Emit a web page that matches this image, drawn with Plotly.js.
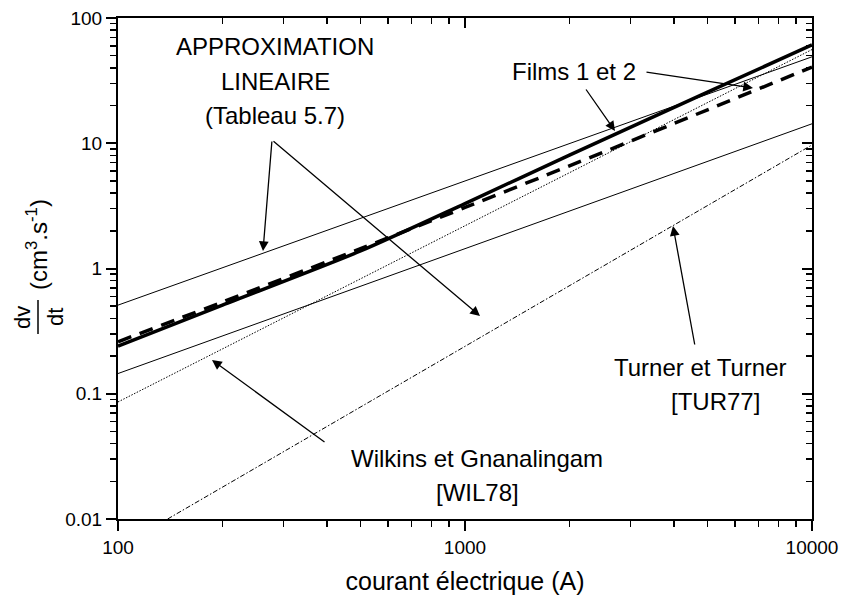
<!DOCTYPE html>
<html>
<head>
<meta charset="utf-8">
<script src="https://cdn.plot.ly/plotly-3.0.1.min.js"></script>
<style>html,body{margin:0;padding:0;background:#fff;}#plot{width:842px;height:603px;}</style>
</head>
<body>
<div id="plot"></div>
<script>
// ---- data ----
const currentFilms = [100, 200, 500, 1000, 2000, 5000, 10000];
const films1 = [0.24, 0.51, 1.38, 3.3, 8.05, 25.6, 61];      // thick solid
const films2 = [0.26, 0.54, 1.44, 3.07, 6.6, 18.5, 40.6];    // thick dashed
const currentLin = [100, 10000];
const linUpper = [0.51, 49];
const linLower = [0.145, 14.3];
const currentWil = [100, 1000, 10000];
const wilkins = [0.086, 2.2, 56];
const currentTur = [139, 1000, 10000];
const turner = [0.01, 0.24, 9.7];

const xTickVals = [100, 1000, 10000];
const xTickText = ['100', '1000', '10000'];
const yTickVals = [0.01, 0.1, 1, 10, 100];
const yTickText = ['0.01', '0.1', '1', '10', '100'];

// ---- layout helpers ----
const W = 842, H = 603;
const M = {l: 118, r: 30, t: 18, b: 84};
const PW = W - M.l - M.r, PH = H - M.t - M.b;
const px = x => (x - M.l) / PW;
const py = y => (H - M.b - y) / PH;

function minorVals(lo, hi) {
  const out = [];
  for (let d = lo; d < hi; d *= 10) for (let k = 2; k <= 9; k++) out.push(d * k);
  return out;
}
const FONT = 'Arial, "Liberation Sans", sans-serif';
const black = '#000';

const traces = [
  {x: currentLin, y: linUpper, mode: 'lines', line: {color: black, width: 1}},
  {x: currentLin, y: linLower, mode: 'lines', line: {color: black, width: 1}},
  {x: currentWil, y: wilkins, mode: 'lines', line: {color: black, width: 1, dash: '1.5px,1.5px'}},
  {x: currentTur, y: turner, mode: 'lines', line: {color: black, width: 1, dash: '5px,2px,1.5px,2px'}},
  {x: currentFilms, y: films2, mode: 'lines', line: {color: black, width: 3.5, dash: '14px,9px', shape: 'spline', smoothing: 0.7}},
  {x: currentFilms, y: films1, mode: 'lines', line: {color: black, width: 3.5, shape: 'spline', smoothing: 0.7}},
  {x: [null], y: [null], xaxis: 'x2', yaxis: 'y2', mode: 'lines', showlegend: false, hoverinfo: 'skip'}
];

const axCommon = {
  type: 'log', showgrid: false, zeroline: false, showline: true,
  linecolor: black, linewidth: 2, tickcolor: black, tickwidth: 2,
  tickfont: {family: FONT, size: 19, color: black}
};

const layout = {
  width: W, height: H, margin: M, showlegend: false,
  paper_bgcolor: '#fff', plot_bgcolor: '#fff',
  font: {family: FONT, color: black},
  xaxis: Object.assign({}, axCommon, {
    range: [2, 4], tickmode: 'array', tickvals: xTickVals, ticktext: xTickText,
    ticks: 'outside', ticklen: 10,
    minor: {tickmode: 'array', tickvals: minorVals(100, 10000), ticks: 'outside', ticklen: 6, tickwidth: 1.5, tickcolor: black},
    title: {text: 'courant électrique (A)', font: {family: FONT, size: 25, color: black}, standoff: 16}
  }),
  yaxis: Object.assign({}, axCommon, {
    range: [-2, 2], tickmode: 'array', tickvals: yTickVals, ticktext: yTickText,
    ticks: 'outside', ticklen: 10,
    minor: {tickmode: 'array', tickvals: minorVals(0.01, 100), ticks: 'outside', ticklen: 6, tickwidth: 1.5, tickcolor: black}
  }),
  xaxis2: Object.assign({}, axCommon, {
    overlaying: 'x', side: 'top', range: [2, 4], tickmode: 'array', tickvals: xTickVals,
    showticklabels: false, ticks: 'inside', ticklen: 10,
    minor: {tickmode: 'array', tickvals: minorVals(100, 10000), ticks: 'inside', ticklen: 6, tickwidth: 1.5, tickcolor: black}
  }),
  yaxis2: Object.assign({}, axCommon, {
    overlaying: 'y', side: 'right', range: [-2, 2], tickmode: 'array', tickvals: yTickVals,
    showticklabels: false, ticks: 'inside', ticklen: 10,
    minor: {tickmode: 'array', tickvals: minorVals(0.01, 100), ticks: 'inside', ticklen: 6, tickwidth: 1.5, tickcolor: black}
  }),
  shapes: [
    {type: 'line', xref: 'paper', yref: 'paper', x0: px(38), x1: px(38), y0: py(300), y1: py(334), line: {color: black, width: 1.5}}
  ],
  annotations: []
};

const A = layout.annotations;
function txt(t, x, y, size, angle) {
  A.push({text: t, xref: 'paper', yref: 'paper', x: px(x), y: py(y), xanchor: 'center', yanchor: 'middle',
          showarrow: false, textangle: angle || 0, font: {family: FONT, size: size || 24, color: black}});
}
function arrow(hx, hy, tx, ty) {
  // head at pixel (hx,hy), tail at pixel (tx,ty)
  A.push({text: '', xref: 'paper', yref: 'paper', x: px(hx), y: py(hy), axref: 'pixel', ayref: 'pixel',
          ax: tx - hx, ay: ty - hy, showarrow: true, arrowhead: 2, arrowsize: 1.5, arrowwidth: 1.3, arrowcolor: black, standoff: 0});
}

// y-axis title
txt('(cm<sup>3</sup>.s<sup>-1</sup>)', 37, 245, 24, -90);
txt('dv', 22, 317, 22, -90);
txt('dt', 55, 317, 22, -90);

// annotations in the plot
txt('APPROXIMATION', 275, 46);
txt('LINEAIRE', 275, 81);
txt('(Tableau 5.7)', 275, 116);
arrow(263, 251, 272, 140);
arrow(480, 316, 272, 140);

txt('Films 1 et 2', 574, 72);
arrow(753, 88, 645, 72);
arrow(615, 131, 585, 88);

txt('Turner et Turner', 700, 367);
txt('[TUR77]', 715, 401);
arrow(673, 226, 695, 346);

txt('Wilkins et Gnanalingam', 477, 458);
txt('[WIL78]', 477, 492);
arrow(212, 360, 326, 443);

Plotly.newPlot('plot', traces, layout, {displayModeBar: false, staticPlot: true});
</script>
</body>
</html>
